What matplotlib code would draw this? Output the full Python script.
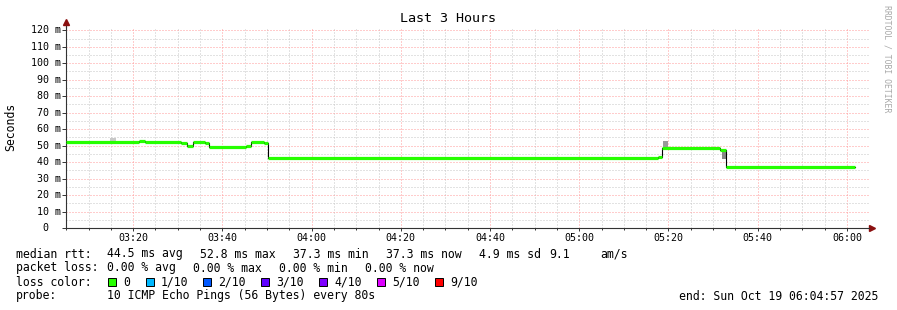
import matplotlib
matplotlib.use("Agg")
import matplotlib.pyplot as plt
import matplotlib.dates as mdates
import matplotlib.transforms as mtransforms
from matplotlib.patches import Rectangle
import pandas as pd

# median rtt steps (ms), start time of each step
day = "2025-10-19 "
step_times = ["03:04:57", "03:21:20", "03:22:45", "03:30:45", "03:32:00", "03:33:30",
              "03:36:00", "03:37:00", "03:45:20", "03:46:30", "03:49:15", "03:50:20",
              "05:17:35", "05:18:30", "05:31:30", "05:32:50"]
median_ms = [52.0, 53.0, 52.0, 51.5, 49.5, 52.0,
             51.5, 49.0, 50.0, 52.0, 51.5, 42.5,
             43.3, 48.4, 47.5, 37.3]
data_end = "06:01:50"

# smoke (ping spread) bits
smoke_start = ["03:14:51", "05:18:40", "05:31:57"]
smoke_end = ["03:16:10", "05:19:57", "05:33:03"]
smoke_lo = [52.5, 48.5, 42.0]
smoke_hi = [54.8, 53.0, 47.0]
smoke_shade = ["#c8c8c8", "#999999", "#888888"]

y_ticks = list(range(0, 121, 10))
x_start = "03:04:57"
x_end = "06:04:57"

rtt_stats = ["44.5 ms avg", "52.8 ms max", "37.3 ms min", "37.3 ms now", "4.9 ms sd", "9.1", "am/s"]
loss_stats = ["0.00 % avg", "0.00 % max", "0.00 % min", "0.00 % now"]
loss_labels = ["0", "1/10", "2/10", "3/10", "4/10", "5/10", "9/10"]
loss_colors = ["#26ff00", "#00b8ff", "#0059ff", "#5e00ff", "#7e00ff", "#dd00ff", "#ff0000"]
probe_text = "10 ICMP Echo Pings (56 Bytes) every 80s"
end_text = "end: Sun Oct 19 06:04:57 2025"

W, H = 897, 310
mono = "DejaVu Sans Mono"
plt.rcParams["font.family"] = mono

fig = plt.figure(figsize=(W / 100, H / 100), dpi=100)
fig.patch.set_facecolor("white")
ax = fig.add_axes([66 / W, (H - 228) / H, (869 - 66) / W, (228 - 27) / H])


def px(x, y):
    return x / W, 1 - y / H


t = pd.to_datetime([day + s for s in step_times])
t_next = list(t[1:]) + [pd.Timestamp(day + data_end)]

# smoke
for s, e, lo, hi, c in zip(smoke_start, smoke_end, smoke_lo, smoke_hi, smoke_shade):
    ax.fill_between([pd.Timestamp(day + s), pd.Timestamp(day + e)], [lo, lo], [hi, hi],
                    color=c, lw=0, zorder=2)

# black connector line, then green segments
ax.step(list(t) + [t_next[-1]], median_ms + [median_ms[-1]], where="post",
        color="black", lw=0.8, zorder=3)
ax.hlines(median_ms, t, t_next, color=loss_colors[0], lw=2.3, zorder=4)

ax.set_xlim(pd.Timestamp(day + x_start), pd.Timestamp(day + x_end))
ax.set_ylim(0, 122)

ax.xaxis.set_major_locator(mdates.MinuteLocator(byminute=[0, 20, 40]))
ax.xaxis.set_minor_locator(mdates.MinuteLocator(byminute=range(0, 60, 5)))
ax.xaxis.set_major_formatter(mdates.DateFormatter("%H:%M"))
ax.set_yticks(y_ticks)
ax.set_yticks(range(5, 121, 10), minor=True)
ax.set_yticklabels([])

ax.grid(which="minor", color="#c6c6c6", ls=(0, (1, 2)), lw=0.72)
ax.grid(which="major", color="#ff9a9a", ls=(0, (1, 2)), lw=0.72)
ax.set_axisbelow(True)

ax.tick_params(axis="x", which="major", labelsize=7.2, length=2, width=0.7, pad=1.5, color="#333333")
ax.tick_params(axis="x", which="minor", length=1.5, width=0.7, color="#333333")
ax.tick_params(axis="y", which="major", length=3, width=0.7, color="#333333")
ax.tick_params(axis="y", which="minor", length=0)

for sp in ["top", "right"]:
    ax.spines[sp].set_visible(False)
for sp in ["left", "bottom"]:
    ax.spines[sp].set_color("#333333")
    ax.spines[sp].set_linewidth(0.8)

# axis extensions and arrows
ax.plot([0, 0], [1, 1.02], transform=ax.transAxes, color="#333333", lw=0.8, clip_on=False)
ax.plot([1, 1.004], [0, 0], transform=ax.transAxes, color="#333333", lw=0.8, clip_on=False)
ax.plot([0], [1.025], marker="^", ms=4, color="#8b1010", transform=ax.transAxes, clip_on=False)
ax.plot([1.004], [0], marker=">", ms=4, color="#8b1010", transform=ax.transAxes, clip_on=False)

# y tick labels
ylab_tr = mtransforms.blended_transform_factory(fig.transFigure, ax.transData)
for v in y_ticks:
    if v == 0:
        ax.text(48 / W, v, "0", transform=ylab_tr, ha="right", va="center", fontsize=7.2)
    else:
        ax.text(61 / W, v, f"{v} m", transform=ylab_tr, ha="right", va="center", fontsize=7.2)

fig.text(*px(448, 19), "Last 3 Hours", ha="center", va="center", fontsize=9.6)
fig.text(*px(11, 127), "Seconds", rotation=90, ha="center", va="center", fontsize=8.3)
fig.text(*px(887, 5), "RRDTOOL / TOBI OETIKER", rotation=-90, ha="center", va="top",
         fontsize=5.9, color="#a8a8a8")

fs = 8.3
fig.text(*px(16, 254), "median rtt:", va="center", fontsize=fs)
for xp, s in zip([107, 200, 293, 386, 479, 549, 600], rtt_stats):
    fig.text(*px(xp, 254), s, va="center", fontsize=fs)

fig.text(*px(16, 268), "packet loss:", va="center", fontsize=fs)
for xp, s in zip([107, 193, 279, 365], loss_stats):
    fig.text(*px(xp, 268), s, va="center", fontsize=fs)

fig.text(*px(16, 282), "loss color:", va="center", fontsize=fs)
sq_x = [108, 146, 203, 261, 319, 377, 435]
for xs, lab, c in zip(sq_x, loss_labels, loss_colors):
    x0, y0 = px(xs, 286)
    fig.patches.append(Rectangle((x0, y0), 8 / W, 8 / H, transform=fig.transFigure,
                                 facecolor=c, edgecolor="black", lw=0.7))
    fig.text(*px(xs + 15, 282), lab, va="center", fontsize=fs)

fig.text(*px(16, 296), "probe:", va="center", fontsize=fs)
fig.text(*px(107, 296), probe_text, va="center", fontsize=fs)
fig.text(*px(878, 296), end_text, ha="right", va="center", fontsize=fs)

fig.savefig("out.png", dpi=100, facecolor="white")
